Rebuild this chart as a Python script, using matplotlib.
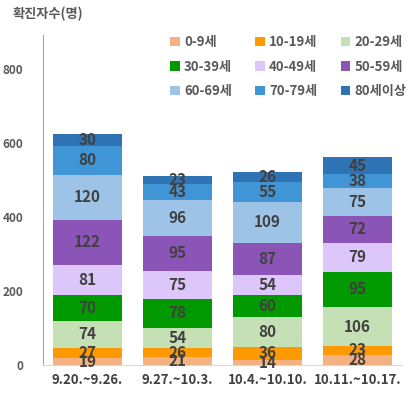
import numpy as np
import matplotlib
matplotlib.use("Agg")
import matplotlib.pyplot as plt

plt.rcParams['font.family'] = ['Noto Sans CJK KR', 'DejaVu Sans']

# =========================
# DATA
# =========================

weeks = ["9.20.~9.26.", "9.27.~10.3.", "10.4.~10.10.", "10.11.~10.17."]

age_groups = ["0-9세", "10-19세", "20-29세", "30-39세", "40-49세",
              "50-59세", "60-69세", "70-79세", "80세이상"]

age_0_9 = [19, 21, 14, 28]
age_10_19 = [27, 26, 36, 23]
age_20_29 = [74, 54, 80, 106]
age_30_39 = [70, 78, 60, 95]
age_40_49 = [81, 75, 54, 79]
age_50_59 = [122, 95, 87, 72]
age_60_69 = [120, 96, 109, 75]
age_70_79 = [80, 43, 55, 38]
age_80_up = [30, 23, 26, 45]

y_ticks = [0, 200, 400, 600, 800]

# =========================
# STYLE
# =========================

colors = ["#F4B183", "#FF9900", "#C5E0B4", "#009A00", "#DCC6FA",
          "#8B55B8", "#9DC3E6", "#3F95D6", "#2E74B5"]
text_color = "#404040"

# =========================
# PLOT
# =========================

fig = plt.figure(figsize=(4.10, 3.96), dpi=100)
ax = fig.add_axes([0.1037, 0.078, 0.878, 0.834])

series = [age_0_9, age_10_19, age_20_29, age_30_39, age_40_49,
          age_50_59, age_60_69, age_70_79, age_80_up]

x = np.arange(len(weeks))
bottom = np.zeros(len(weeks))

for name, vals, col in zip(age_groups, series, colors):
    vals = np.array(vals)
    ax.bar(x, vals, width=0.767, bottom=bottom, color=col, label=name)
    for xi, b, v in zip(x, bottom, vals):
        ax.text(xi, b + v / 2, str(v), ha="center", va="center",
                fontsize=11, fontweight="bold", color=text_color)
    bottom = bottom + vals

ax.set_xlim(-0.5, 3.5)
ax.set_ylim(0, 892)
ax.set_yticks(y_ticks)
ax.set_xticks(x)
ax.set_xticklabels(weeks, fontsize=9.5, fontweight="bold", color=text_color)
ax.tick_params(axis="y", labelsize=8.5, colors="#595959", length=0, pad=14)
ax.tick_params(axis="x", length=0, pad=6)
for lab in ax.get_yticklabels():
    lab.set_fontweight("bold")

for side in ["top", "right"]:
    ax.spines[side].set_visible(False)
ax.spines["left"].set_color("#A6A6A6")
ax.spines["bottom"].set_color("#D9D9D9")

fig.text(0.03, 0.965, "확진자수(명)", fontsize=9.5, fontweight="bold",
         color="#595959", va="center")

# legend filled row by row (3 columns)
handles, labels = ax.get_legend_handles_labels()
order = [0, 3, 6, 1, 4, 7, 2, 5, 8]
ax.legend([handles[i] for i in order], [labels[i] for i in order],
          ncol=3, loc="upper left", bbox_to_anchor=(0.322, 1.035),
          frameon=False, handlelength=0.7, handleheight=0.7,
          handletextpad=0.35, columnspacing=1.75, labelspacing=0.8,
          prop={"weight": "bold", "size": 9.5})
for t in ax.get_legend().get_texts():
    t.set_color("#595959")

fig.savefig("out.png", dpi=100)
